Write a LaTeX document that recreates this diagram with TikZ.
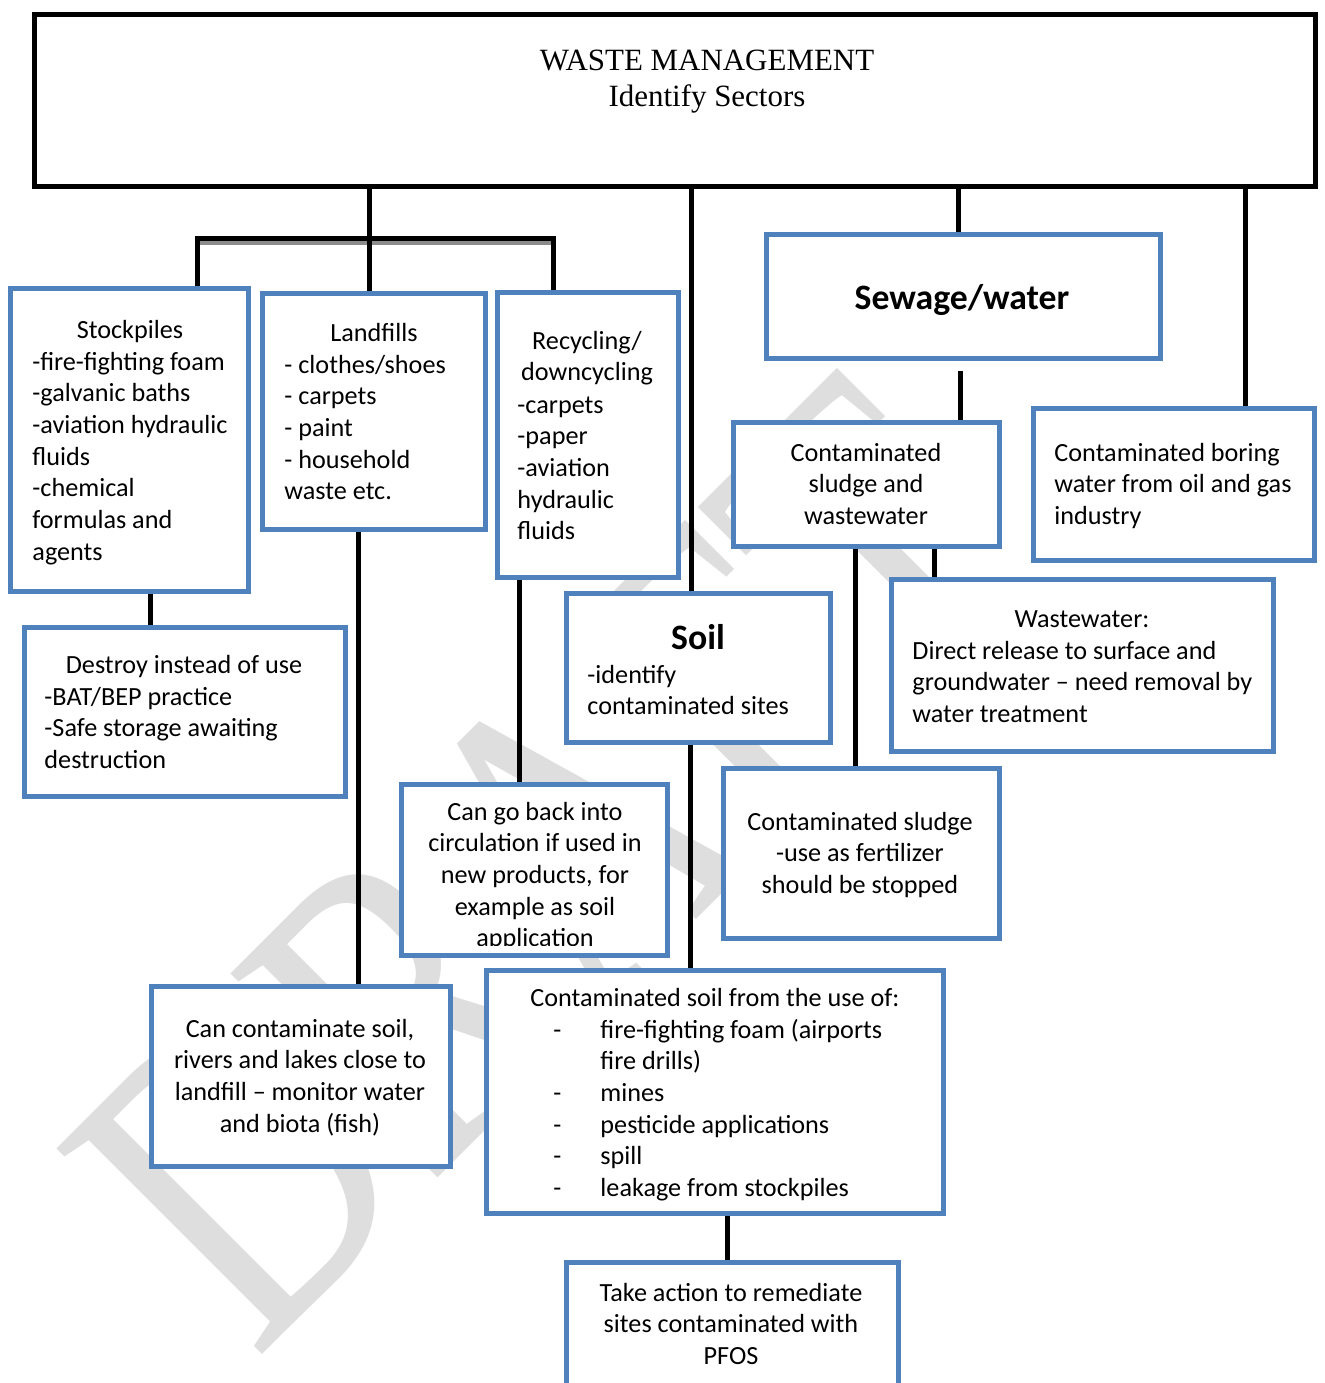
\documentclass[tikz,border=0pt]{standalone}
\usepackage{fontspec}
\setmainfont{Carlito}
\newfontfamily\serifA{Liberation Serif}
\usetikzlibrary{fit,calc}
\definecolor{boxblue}{HTML}{4F81BD}
\newcommand\LB[1]{\begin{tabular}[t]{@{}l@{}}#1\end{tabular}}
\newcommand\CB[1]{\begin{tabular}[t]{@{}c@{}}#1\end{tabular}}
\begin{document}
\begin{tikzpicture}[x=0.42pt,y=-0.42pt,
  box/.style={draw=boxblue, line width=2.1pt, fill=white, inner sep=0pt},
  topbox/.style={draw=black, line width=2.1pt, fill=white, inner sep=0pt},
  conn/.style={draw=black, line width=2.1pt},
  txt/.style={inner sep=0pt, font=\fontsize{11}{13.31}\selectfont},
  head/.style={inner sep=0pt, font=\fontsize{15}{18}\selectfont\bfseries},
  ttl/.style={inner sep=0pt, font=\serifA\fontsize{13}{15.12}\selectfont},
  wmark/.style={inner sep=0pt, text=black!13, font=\serifA}
]
\useasboundingbox (0,0) rectangle (1325,1383);
\clip (0,0) rectangle (1325,1383);

% watermark
\node[wmark, rotate=45] (wm) at (548,862) {\scalebox{1}[1.3]{\fontsize{143.5}{150}\selectfont DRAFT}};

% boxes
\node[topbox, fit={(34.5,14)(1315,186)}] (top) {};
\node[box, fit={(10.8,288.5)(248.5,591.5)}] (stock) {};
\node[box, fit={(262.5,293.5)(485,529)}] (land) {};
\node[box, fit={(497,292)(678.5,577.5)}] (recy) {};
\node[box, fit={(766,234.5)(1160.5,358.5)}] (sewage) {};
\node[box, fit={(733,422)(999,546.5)}] (sludge) {};
\node[box, fit={(1033.5,408)(1314,560.5)}] (boring) {};
\node[box, fit={(566,593.5)(830,742.5)}] (soil) {};
\node[box, fit={(891.5,579.5)(1273.5,751)}] (wastew) {};
\node[box, fit={(24,627.5)(345.5,796.5)}] (destroy) {};
\node[box, fit={(401.5,784.5)(667.5,955.5)}] (goback) {};
\node[box, fit={(723.5,768.5)(999,938.5)}] (fert) {};
\node[box, fit={(151,986.5)(450.5,1166.5)}] (cancont) {};
\node[box, fit={(486.5,970.5)(943.5,1213.5)}] (contsoil) {};
\node[box, fit={(566.5,1262.5)(898.5,1430)}] (action) {};

% connectors
\coordinate (bar) at (369,238);
\draw[line width=1.7pt, black!45] (199,243) -- (555,243);
\draw[conn] (top.south -| 369,0) -- (land.north -| 369,0);
\draw[conn] (stock.north -| 197.5,0) |- (bar) -| (recy.north -| 553,0);
\draw[conn] (top.south -| 691,0) -- (soil.north -| 691,0);
\draw[conn] (top.south -| 958,0) -- (sewage.north -| 958,0);
\draw[conn] (top.south -| 1245,0) -- (boring.north -| 1245,0);
\draw[conn] (stock.south -| 150,0) -- (destroy.north -| 150,0);
\draw[conn] (land.south -| 358,0) -- (cancont.north -| 358,0);
\draw[conn] (recy.south -| 519,0) -- (goback.north -| 519,0);
\draw[conn, shorten <=4.2pt] (sewage.south -| 960,0) -- (sludge.north -| 960,0);
\draw[conn] (sludge.south -| 855,0) -- (fert.north -| 855,0);
\draw[conn] (sludge.south -| 934,0) -- (wastew.north -| 934,0);
\draw[conn] (soil.south -| 690,0) -- (contsoil.north -| 690,0);
\draw[conn] (contsoil.south -| 727,0) -- (action.north -| 727,0);

% texts
\node[ttl, anchor=base] (t-top) at (707,70) {\CB{WASTE MANAGEMENT\\Identify Sectors}};

\node[txt, anchor=base] (t-stock-h) at (130,338) {Stockpiles};
\node[txt, anchor=base west] (t-stock) at (32,370) {\LB{-fire-fighting foam\\-galvanic baths\\-aviation hydraulic\\fluids\\-chemical\\formulas and\\agents}};

\node[txt, anchor=base] (t-land-h) at (374,341) {Landfills};
\node[txt, anchor=base west] (t-land) at (284,373) {\LB{- clothes/shoes\\- carpets\\- paint\\- household\\waste etc.}};

\node[txt, anchor=base] (t-recy-h) at (587,349) {\CB{Recycling/\\downcycling}};
\node[txt, anchor=base west] (t-recy) at (517,413) {\LB{-carpets\\-paper\\-aviation\\hydraulic\\fluids}};

\node[head, anchor=base] (t-sewage) at (962,309) {Sewage/water};

\node[txt, anchor=base] (t-sludge) at (866,461) {\CB{Contaminated\\sludge and\\wastewater}};
\node[txt, anchor=base west] (t-boring) at (1054,461) {\LB{Contaminated boring\\water from oil and gas\\industry}};

\node[head, anchor=base] (t-soil-h) at (698,649) {Soil};
\node[txt, anchor=base west] (t-soil) at (587,683) {\LB{-identify\\contaminated sites}};

\node[txt, anchor=base] (t-wastew-h) at (1082,627) {Wastewater:};
\node[txt, anchor=base west] (t-wastew) at (912,659) {\LB{Direct release to surface and\\groundwater – need removal by\\water treatment}};

\node[txt, anchor=base] (t-destroy-h) at (184,673) {Destroy instead of use};
\node[txt, anchor=base west] (t-destroy) at (44,705) {\LB{-BAT/BEP practice\\-Safe storage awaiting\\destruction}};

\begin{scope}
\clip (401.5,784.5) rectangle (667.5,945);
\node[txt, anchor=base] (t-goback) at (535,820) {\CB{Can go back into\\circulation if used in\\new products, for\\example as soil\\application}};
\end{scope}

\node[txt, anchor=base] (t-fert) at (860,830) {\CB{Contaminated sludge\\-use as fertilizer\\should be stopped}};

\node[txt, anchor=base] (t-cancont) at (300,1037) {\CB{Can contaminate soil,\\rivers and lakes close to\\landfill – monitor water\\and biota (fish)}};

\node[txt, anchor=base] (t-contsoil-h) at (715,1006) {Contaminated soil from the use of:};
\node[txt, anchor=base west] (t-contsoil-d) at (553,1038) {\LB{-\\{}\\-\\-\\-\\-}};
\node[txt, anchor=base west] (t-contsoil) at (600,1038) {\LB{fire-fighting foam (airports\\fire drills)\\mines\\pesticide applications\\spill\\leakage from stockpiles}};

\node[txt, anchor=base] (t-action) at (731,1301) {\CB{Take action to remediate\\sites contaminated with\\PFOS}};
\end{tikzpicture}
\end{document}
